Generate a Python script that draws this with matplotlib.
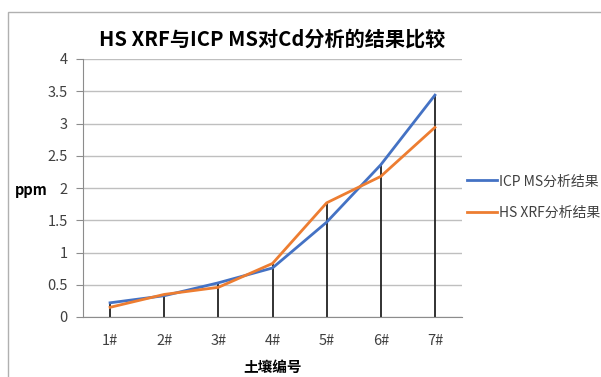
import matplotlib.pyplot as plt
import numpy as np
from matplotlib.patches import Rectangle

plt.rcParams['font.family'] = ['Noto Sans CJK SC', 'DejaVu Sans']

samples = ["1#", "2#", "3#", "4#", "5#", "6#", "7#"]
icp_ms = [0.22, 0.33, 0.53, 0.76, 1.47, 2.36, 3.44]
hs_xrf = [0.15, 0.35, 0.46, 0.83, 1.77, 2.18, 2.94]

x = np.arange(1, len(samples) + 1)

fig = plt.figure(figsize=(6.01, 3.77), dpi=100)
ax = fig.add_axes([83/601, 1-317/377, (462-83)/601, (317-59)/377])

# outer chart frame
fig.add_artist(Rectangle((8/601, -0.2), 1.2, 1.2 - 12/377, transform=fig.transFigure,
                         fill=False, edgecolor="#b0b0b0", lw=1.0))

# drop lines from each category down to the axis
ax.vlines(x, 0, np.maximum(icp_ms, hs_xrf), color="#222222", lw=1.3, zorder=2)
ax.plot(x, icp_ms, color="#4472C4", lw=2, label="ICP MS分析结果", zorder=3)
ax.plot(x, hs_xrf, color="#ED7D31", lw=2, label="HS XRF分析结果", zorder=3)

ax.set_xlim(0.5, 7.5)
ax.set_ylim(0, 4)
ax.set_yticks(np.arange(0, 4.01, 0.5))
ax.set_yticklabels(["0", "0.5", "1", "1.5", "2", "2.5", "3", "3.5", "4"])
ax.set_xticks(x)
ax.set_xticklabels(samples)
ax.grid(axis="y", color="#bfbfbf", lw=1)
ax.set_axisbelow(True)
for s in ["top", "right"]:
    ax.spines[s].set_visible(False)
for s in ["left", "bottom"]:
    ax.spines[s].set_color("#8c8c8c")
ax.tick_params(axis="y", length=5, color="#8c8c8c", labelcolor="#404040", labelsize=10.5, pad=6)
ax.tick_params(axis="x", length=0, labelcolor="#404040", labelsize=10.5, pad=12)

ax.set_title("HS XRF与ICP MS对Cd分析的结果比较", fontsize=14.5, fontweight="bold", pad=10)
ax.set_xlabel("土壤编号", fontsize=10.5, fontweight="bold", labelpad=8)
fig.text(31/601, 1-190/377, "ppm", fontsize=10.5, fontweight="bold", ha="center", va="center")

ax.legend(loc="center left", bbox_to_anchor=(0.98, 0.465), frameon=False, fontsize=10,
          handlelength=2.2, handletextpad=0.1, labelspacing=1.25, labelcolor="#404040")

fig.savefig("out.png", dpi=100)
